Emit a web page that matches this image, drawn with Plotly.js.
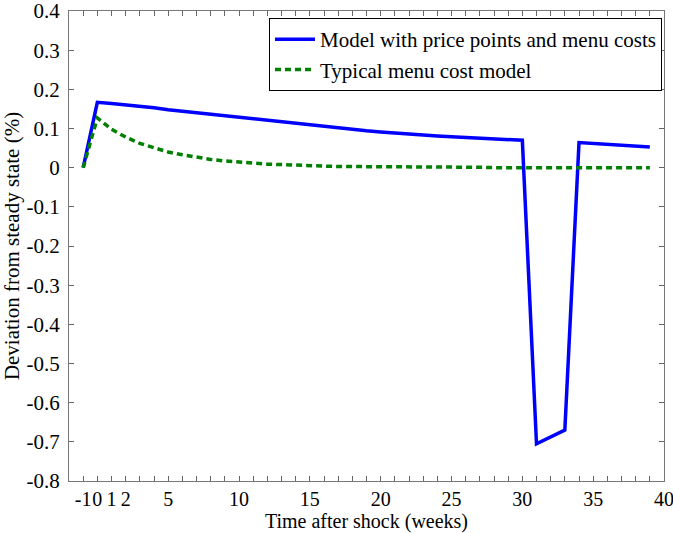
<!DOCTYPE html>
<html>
<head>
<meta charset="utf-8">
<script src="https://cdn.plot.ly/plotly-3.0.1.min.js"></script>
<style>html,body{margin:0;padding:0;background:#fff;}#chart{width:673px;height:533px;}</style>
</head>
<body>
<div id="chart"></div>
<script>
var weeks = [-1,0,1,2,3,4,5,6,7,8,9,10,11,12,13,14,15,16,17,18,19,20,21,22,23,24,25,26,27,28,29,30,31,32,33,34,35,36,37,38,39];
var pricePoints = [0,0.167,0.164,0.161,0.157,0.153,0.148,0.144,0.140,0.136,0.133,0.129,0.125,0.121,0.117,0.113,0.110,0.106,0.101,0.097,0.094,0.091,0.088,0.086,0.083,0.081,0.079,0.077,0.075,0.073,0.072,0.070,-0.705,-0.688,-0.670,0.064,0.062,0.060,0.058,0.056,0.053];
var typicalMenu = [0,0.127,0.098,0.078,0.062,0.050,0.040,0.033,0.026,0.021,0.017,0.014,0.011,0.009,0.008,0.006,0.005,0.004,0.003,0.003,0.002,0.002,0.002,0.001,0.001,0.001,0.001,0.001,0.001,0,0,0,0,0,0,0,0,0,0,0,0];
var xTickVals = [-1,0,1,2,5,10,15,20,25,30,35,40];
var xTickText = ['-1','0','1','2','5','10','15','20','25','30','35','40'];
var yTickVals = [-0.8,-0.7,-0.6,-0.5,-0.4,-0.3,-0.2,-0.1,0,0.1,0.2,0.3,0.4];
var yTickText = ['-0.8','-0.7','-0.6','-0.5','-0.4','-0.3','-0.2','-0.1','0','0.1','0.2','0.3','0.4'];

var fam = 'Liberation Serif, Times New Roman, serif';
var font = {family: fam, size: 21, color: '#000'};
var xfont = {family: fam, size: 20, color: '#000'};
var traces = [
  {x: weeks, y: pricePoints, type: 'scatter', mode: 'lines', name: 'Model with price points and menu costs',
   line: {color: 'rgb(0,0,255)', width: 3.5}},
  {x: weeks, y: typicalMenu, type: 'scatter', mode: 'lines', name: 'Typical menu cost model',
   line: {color: 'rgb(0,128,0)', width: 3.5, dash: '6px,4px'}}
];
var layout = {
  width: 673, height: 533,
  margin: {l: 69, r: 9, t: 11, b: 52},
  paper_bgcolor: '#fff', plot_bgcolor: '#fff',
  font: font,
  showlegend: true,
  legend: {x: 0.9966, xanchor: 'right', y: 0.985, yanchor: 'top', bgcolor: '#fff',
           bordercolor: '#000', borderwidth: 1, font: font,
           tracegroupgap: 0, itemwidth: 40},
  xaxis: {range: [-2, 40], tickmode: 'array', tickvals: xTickVals, ticktext: xTickText, tickangle: 0,
          ticks: 'inside', ticklen: 5, tickcolor: '#666', showline: true, linecolor: '#777', linewidth: 1,
          mirror: 'ticks', showgrid: false, zeroline: false, ticklabeloverflow: 'allow',
          minor: {tick0: 0, dtick: 1, ticks: 'inside', ticklen: 5, tickcolor: '#666', showgrid: false},
          tickfont: xfont,
          title: {text: 'Time after shock (weeks)', font: xfont, standoff: 3}},
  yaxis: {range: [-0.8, 0.4], tickmode: 'array', tickvals: yTickVals, ticktext: yTickText,
          ticks: 'inside', ticklen: 5, tickcolor: '#666', showline: true, linecolor: '#777', linewidth: 1,
          mirror: 'ticks', showgrid: false, zeroline: false, tickfont: font, ticklabelstandoff: 4,
          ticklabeloverflow: 'allow',
          title: {text: 'Deviation from steady state (%)', font: font, standoff: 4}}
};
Plotly.newPlot('chart', traces, layout, {displayModeBar: false, staticPlot: true});
</script>
</body>
</html>
